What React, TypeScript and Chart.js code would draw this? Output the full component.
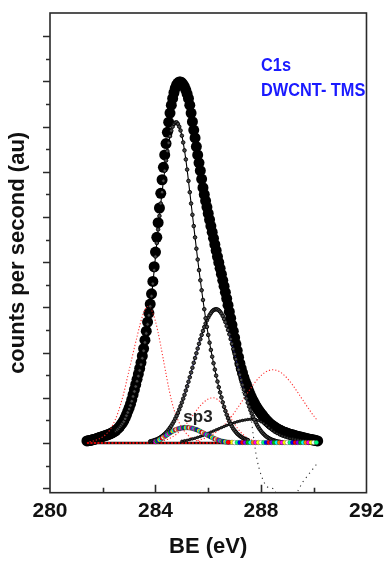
import React, { useEffect, useRef } from "react";
import { Chart, registerables } from "chart.js";
Chart.register(...registerables);
Chart.defaults.font.family = "'Liberation Sans', Arial, sans-serif";

// ---------- axis ----------
const X_MIN = 280;
const X_MAX = 292;
const X_TICKS = [280, 282, 284, 286, 288, 290, 292];
const X_LABELED = [280, 284, 288, 292];
const Y_TICKS = [0, 1, 2, 3, 4, 5, 6, 7, 8, 9, 10, 11, 12, 13, 14, 15, 16, 17, 18, 19, 20];

// ---------- data (BE in eV, counts in arbitrary units) ----------
// measured envelope (big dots), BE from 281.40 step 0.05
const ENV_START = 281.4;
const ENV_STEP = 0.05;
const ENVELOPE = [
  2.09, 2.10, 2.11, 2.12, 2.14, 2.15, 2.17, 2.19, 2.21, 2.23,
  2.25, 2.27, 2.29, 2.31, 2.33, 2.35, 2.37, 2.39, 2.42, 2.45,
  2.48, 2.52, 2.56, 2.61, 2.67, 2.74, 2.82, 2.90, 3.00, 3.12,
  3.26, 3.40, 3.55, 3.72, 3.92, 4.14, 4.36, 4.59, 4.82, 5.05,
  5.30, 5.56, 5.85, 6.18, 6.55, 6.95, 7.35, 7.75, 8.15, 8.60,
  9.15, 9.80, 10.45, 11.10, 11.75, 12.40, 13.05, 13.65, 14.20, 14.75,
  15.25, 15.75, 16.20, 16.60, 16.95, 17.25, 17.50, 17.70, 17.85, 17.93,
  17.98, 17.98, 17.94, 17.86, 17.76, 17.62, 17.45, 17.25, 16.95, 16.60,
  16.22, 15.85, 15.50, 15.12, 14.75, 14.40, 14.05, 13.68, 13.30, 13.00,
  12.72, 12.44, 12.16, 11.88, 11.60, 11.33, 11.06, 10.79, 10.52, 10.25,
  9.99, 9.73, 9.47, 9.20, 8.94, 8.67, 8.39, 8.10, 7.81, 7.52,
  7.23, 6.95, 6.66, 6.38, 6.09, 5.80, 5.52, 5.30, 5.10, 4.90,
  4.73, 4.58, 4.42, 4.26, 4.12, 3.99, 3.87, 3.76, 3.65, 3.56,
  3.47, 3.39, 3.31, 3.24, 3.16, 3.09, 3.02, 2.96, 2.90, 2.85,
  2.80, 2.76, 2.72, 2.68, 2.64, 2.61, 2.58, 2.55, 2.52, 2.49,
  2.47, 2.45, 2.43, 2.41, 2.39, 2.37, 2.36, 2.34, 2.32, 2.31,
  2.29, 2.28, 2.26, 2.25, 2.23, 2.22, 2.21, 2.19, 2.18, 2.17,
  2.15, 2.14, 2.13, 2.12, 2.10, 2.09,
];

// sp2 component, BE from 282.50 step 0.05
const SP2_START = 282.5;
const SP2_STEP = 0.05;
const SP2 = [
  2.53, 2.58, 2.64, 2.71, 2.78, 2.86, 2.95, 3.07, 3.21, 3.35,
  3.50, 3.66, 3.85, 4.06, 4.28, 4.50, 4.73, 4.96, 5.21, 5.47,
  5.75, 6.08, 6.45, 6.85, 7.25, 7.65, 8.05, 8.50, 9.05, 9.65,
  10.25, 10.85, 11.45, 12.05, 12.60, 13.10, 13.60, 14.05, 14.50, 14.92,
  15.28, 15.58, 15.82, 16.00, 16.12, 16.18, 16.19, 16.12, 16.00, 15.83,
  15.60, 15.30, 14.95, 14.55, 14.10, 13.60, 13.10, 12.60, 12.10, 11.60,
  11.10, 10.60, 10.12, 9.65, 9.20, 8.76, 8.33, 7.92, 7.52, 7.14,
  6.78, 6.44, 6.12, 5.82, 5.53, 5.25, 4.98, 4.72, 4.47, 4.24,
  4.02, 3.80, 3.60, 3.42, 3.25, 3.10, 2.96, 2.84, 2.73, 2.63,
  2.55, 2.48, 2.41, 2.36, 2.31, 2.27, 2.23, 2.20, 2.17, 2.15,
  2.13,
];

// second component (~286.3 eV), BE from 283.80 step 0.05
const C2_START = 283.8;
const C2_STEP = 0.05;
const C2 = [
  2.07, 2.08, 2.10, 2.12, 2.14, 2.16, 2.19, 2.22, 2.26, 2.30,
  2.35, 2.40, 2.46, 2.52, 2.60, 2.68, 2.76, 2.86, 2.96, 3.08,
  3.20, 3.33, 3.48, 3.63, 3.79, 3.96, 4.13, 4.32, 4.51, 4.71,
  4.91, 5.12, 5.33, 5.55, 5.76, 5.97, 6.18, 6.39, 6.59, 6.78,
  6.96, 7.13, 7.29, 7.43, 7.55, 7.66, 7.75, 7.83, 7.88, 7.91,
  7.92, 7.91, 7.87, 7.81, 7.73, 7.62, 7.49, 7.35, 7.18, 7.00,
  6.81, 6.60, 6.39, 6.16, 5.94, 5.71, 5.47, 5.24, 5.02, 4.79,
  4.57, 4.36, 4.16, 3.97, 3.78, 3.61, 3.45, 3.30, 3.16, 3.03,
  2.91, 2.80, 2.70, 2.61, 2.53, 2.46, 2.40, 2.34, 2.29, 2.25,
  2.21, 2.18, 2.15, 2.13, 2.11, 2.09, 2.07, 2.06, 2.05, 2.04,
  2.03,
];

// third component (~287.7 eV), BE from 285.0 step 0.1
const C3_START = 285.0;
const C3_STEP = 0.1;
const C3 = [
  2.08, 2.10, 2.12, 2.15, 2.18, 2.21, 2.25, 2.29, 2.33, 2.38,
  2.43, 2.48, 2.53, 2.58, 2.63, 2.68, 2.73, 2.78, 2.82, 2.86,
  2.90, 2.94, 2.97, 3.00, 3.02, 3.04, 3.05, 3.05, 3.04, 3.00,
  2.94, 2.87, 2.78, 2.68, 2.58, 2.49, 2.42, 2.36, 2.31, 2.27,
  2.23, 2.20, 2.18, 2.16, 2.14, 2.12, 2.11, 2.10, 2.09, 2.08,
  2.07, 2.06,
];

// sp3 component, BE from 284.00 step 0.05, then tail from 286.8 step 0.1
const SP3_START = 284.0;
const SP3_STEP = 0.05;
const SP3 = [
  2.06, 2.08, 2.11, 2.14, 2.17, 2.21, 2.25, 2.29, 2.33, 2.37,
  2.41, 2.45, 2.49, 2.52, 2.55, 2.58, 2.60, 2.62, 2.64, 2.65,
  2.66, 2.67, 2.68, 2.68, 2.68, 2.68, 2.67, 2.66, 2.65, 2.63,
  2.61, 2.59, 2.57, 2.54, 2.51, 2.48, 2.45, 2.42, 2.39, 2.36,
  2.33, 2.30, 2.27, 2.24, 2.21, 2.18, 2.16, 2.14, 2.12, 2.10,
  2.08, 2.07, 2.06, 2.05, 2.04, 2.03,
];
const SP3_TAIL_START = 286.8;
const SP3_TAIL_STEP = 0.1;
const SP3_TAIL = [
  2.03, 2.03, 2.02, 2.02, 2.02, 2.02, 2.02, 2.02, 2.02, 2.02,
  2.02, 2.02, 2.02, 2.02, 2.02, 2.02, 2.02, 2.02, 2.02, 2.02,
  2.02, 2.02, 2.02, 2.02, 2.02, 2.02, 2.02, 2.02, 2.02, 2.02,
  2.02, 2.02, 2.02, 2.02,
];

// red dotted curves, step 0.1
const R1_START = 281.5;
const R1 = [
  2.06, 2.08, 2.11, 2.15, 2.20, 2.27, 2.36, 2.48, 2.63, 2.84,
  3.10, 3.42, 3.80, 4.22, 4.72, 5.22, 5.72, 6.22, 6.70, 7.18,
  7.60, 7.90, 8.04, 7.98, 7.75, 7.38, 6.88, 6.30, 5.68, 5.05,
  4.45, 3.92, 3.48, 3.15, 2.90, 2.70, 2.52, 2.38, 2.27, 2.19,
  2.13, 2.09, 2.06,
];
const R2_START = 284.2;
const R2 = [
  2.07, 2.10, 2.14, 2.18, 2.24, 2.31, 2.40, 2.50, 2.62, 2.75,
  2.89, 3.04, 3.20, 3.35, 3.51, 3.65, 3.77, 3.87, 3.95, 3.99,
  4.00, 3.96, 3.88, 3.76, 3.59, 3.41, 3.21, 3.02, 2.84, 2.67,
  2.52, 2.40, 2.29, 2.21, 2.15, 2.10, 2.07, 2.05, 2.03,
];
const R3_START = 285.6;
const R3 = [
  2.11, 2.14, 2.18, 2.22, 2.27, 2.33, 2.40, 2.48, 2.57, 2.67,
  2.79, 2.91, 3.05, 3.20, 3.36, 3.53, 3.70, 3.88, 4.05, 4.23,
  4.40, 4.57, 4.72, 4.86, 4.98, 5.08, 5.16, 5.21, 5.24, 5.24,
  5.21, 5.16, 5.08, 4.98, 4.86, 4.72, 4.57, 4.40, 4.23, 4.05,
  3.88, 3.70, 3.53, 3.36, 3.20, 3.05,
];
const R_STEP = 0.1;

// black dotted residual
const RESID_X = [287.2, 287.3, 287.4, 287.5, 287.6, 287.7, 287.8, 287.9, 288.0, 288.1, 288.2, 288.3, 288.4, 288.5, 288.7, 288.9, 289.1, 289.3, 289.4, 289.5, 289.6, 289.7, 289.8, 289.9, 290.0, 290.1];
const RESID_Y = [4.7, 4.2, 3.9, 3.7, 3.3, 2.4, 1.6, 1.0, 0.6, 0.3, 0.1, 0.02, 0.0, -0.05, -0.6, -0.9, -0.7, -0.3, -0.12, 0.1, 0.3, 0.45, 0.6, 0.75, 0.9, 1.05];

// background line
const BASE_X = [281.4, 290.15];
const BASE_Y = [2.0, 2.0];

const RAINBOW = ["#ff00ff", "#00c000", "#0000ff", "#ffff00", "#00ffff", "#ff0000", "#ffffff", "#ff8000", "#8000ff", "#00ff80"];

const pts = (start: number, step: number, ys: number[]) =>
  ys.map((y, i) => ({ x: Math.round((start + i * step) * 1000) / 1000, y }));
const pairs = (xs: number[], ys: number[]) => xs.map((x, i) => ({ x, y: ys[i] }));

const framePlugin = {
  id: "frame",
  afterDraw(chart: any) {
    const { ctx, chartArea: a, scales } = chart;
    const x = scales.x;
    const y = scales.y;
    ctx.save();
    ctx.strokeStyle = "#2a2a2a";
    ctx.lineWidth = 1.6;
    ctx.strokeRect(a.left, a.top, a.right - a.left, a.bottom - a.top);
    ctx.beginPath();
    Y_TICKS.forEach((v) => {
      const py = Math.round(y.getPixelForValue(v)) + 0.5;
      const len = v % 2 === 0 ? 7 : 4;
      ctx.moveTo(a.left - len, py);
      ctx.lineTo(a.left, py);
    });
    X_TICKS.forEach((v) => {
      if (v === X_MIN || v === X_MAX) return;
      const px = Math.round(x.getPixelForValue(v)) + 0.5;
      const len = X_LABELED.includes(v) ? 8 : 5;
      ctx.moveTo(px, a.bottom);
      ctx.lineTo(px, a.bottom - len);
    });
    ctx.stroke();

    // annotations
    ctx.textAlign = "left";
    ctx.textBaseline = "alphabetic";
    ctx.fillStyle = "#1a1aff";
    ctx.font = "bold 19px 'Liberation Sans', Arial, sans-serif";
    const drawSq = (t: string, bx: number, by: number) => {
      ctx.save();
      ctx.translate(x.getPixelForValue(bx), y.getPixelForValue(by));
      ctx.scale(0.86, 1);
      ctx.fillText(t, 0, 0);
      ctx.restore();
    };
    drawSq("C1s", 288.0, 18.48);
    drawSq("DWCNT- TMS", 288.0, 17.37);
    ctx.fillStyle = "#222";
    ctx.font = "bold 17px 'Liberation Sans', Arial, sans-serif";
    ctx.textAlign = "center";
    ctx.fillText("sp3", x.getPixelForValue(285.61), y.getPixelForValue(2.95));
    ctx.restore();
  },
};

export default function App() {
  const ref = useRef<HTMLCanvasElement>(null);
  useEffect(() => {
    const redDot = {
      showLine: true,
      borderColor: "rgba(255,30,30,0.9)",
      borderWidth: 1.1,
      borderDash: [1.2, 2],
      pointRadius: 0,
      tension: 0.3,
    };
    const chart = new Chart(ref.current as HTMLCanvasElement, {
      type: "scatter",
      data: {
        datasets: [
          {
            label: "sp3",
            data: pts(SP3_START, SP3_STEP, SP3),
            showLine: false,
            pointRadius: 2.3,
            pointBorderWidth: 0.5,
            pointBorderColor: "rgba(0,0,0,0.5)",
            pointBackgroundColor: (c: any) => RAINBOW[c.dataIndex % RAINBOW.length],
          },
          {
            label: "sp3 tail",
            data: pts(SP3_TAIL_START, SP3_TAIL_STEP, SP3_TAIL),
            showLine: false,
            pointRadius: 2.3,
            pointBorderWidth: 0.5,
            pointBorderColor: "rgba(0,0,0,0.5)",
            pointBackgroundColor: (c: any) => RAINBOW[(c.dataIndex * 3) % RAINBOW.length],
          },
          {
            label: "sp2",
            data: pts(SP2_START, SP2_STEP, SP2),
            showLine: true,
            borderColor: "#000",
            borderWidth: 1.1,
            pointRadius: 1.8,
            pointBackgroundColor: "#4a4a4a",
            pointBorderColor: "#000",
            pointBorderWidth: 0.9,
          },
          {
            label: "C2",
            data: pts(C2_START, C2_STEP, C2),
            showLine: true,
            borderColor: "#1c1c8c",
            borderWidth: 1.1,
            pointRadius: 1.8,
            pointBackgroundColor: "#4a4a4a",
            pointBorderColor: "#000",
            pointBorderWidth: 0.9,
          },
          {
            label: "C3",
            data: pts(C3_START, C3_STEP, C3),
            showLine: true,
            borderColor: "#000",
            borderWidth: 2,
            pointRadius: 1.3,
            pointBackgroundColor: "#333",
            pointBorderColor: "#000",
            pointBorderWidth: 0.6,
          },
          { label: "R1", data: pts(R1_START, R_STEP, R1), ...redDot },
          { label: "R2", data: pts(R2_START, R_STEP, R2), ...redDot },
          { label: "R3", data: pts(R3_START, R_STEP, R3), ...redDot },
          {
            label: "resid",
            data: pairs(RESID_X, RESID_Y),
            showLine: true,
            borderColor: "#333",
            borderWidth: 1.1,
            borderDash: [1.2, 4],
            pointRadius: 0,
            tension: 0.3,
          },
          {
            label: "base red",
            data: pairs(BASE_X, BASE_Y),
            showLine: true,
            borderColor: "rgba(230,0,0,0.95)",
            borderWidth: 2,
            borderDash: [2, 1.5],
            pointRadius: 0,
          },
          {
            label: "base",
            data: pairs(BASE_X, BASE_Y),
            showLine: true,
            borderColor: "#111",
            borderWidth: 2.5,
            pointRadius: 0,
          },
          {
            label: "envelope",
            data: pts(ENV_START, ENV_STEP, ENVELOPE),
            showLine: false,
            pointRadius: 5.5,
            pointBackgroundColor: "#000",
            pointBorderWidth: 0,
          },
        ] as any,
      },
      options: {
        animation: false,
        responsive: true,
        maintainAspectRatio: false,
        layout: { padding: { left: 0, right: 23, top: 13, bottom: 0 } },
        plugins: { legend: { display: false }, tooltip: { enabled: false } },
        scales: {
          x: {
            type: "linear",
            min: X_MIN,
            max: X_MAX,
            afterFit: (s: any) => {
              s.height = 72.3;
            },
            afterBuildTicks: (s: any) => {
              s.ticks = X_TICKS.map((v) => ({ value: v }));
            },
            grid: { display: false, drawTicks: false },
            border: { display: false },
            ticks: {
              autoSkip: false,
              maxRotation: 0,
              padding: 6,
              color: "#111",
              font: { size: 21, weight: "bold" },
              callback: (v: any) => (X_LABELED.includes(Number(v)) ? String(v) : ""),
            },
            title: {
              display: true,
              text: "BE (eV)",
              color: "#111",
              font: { size: 22, weight: "bold" },
              padding: { top: 0, bottom: 5 },
            },
          },
          y: {
            type: "linear",
            min: -0.2,
            max: 21.03,
            afterFit: (s: any) => {
              s.width = 50;
            },
            afterBuildTicks: (s: any) => {
              s.ticks = Y_TICKS.map((v) => ({ value: v }));
            },
            grid: { display: false, drawTicks: false },
            border: { display: false },
            ticks: { display: false },
            title: {
              display: true,
              text: "counts per second (au)",
              color: "#111",
              font: { size: 22, weight: "bold" },
              padding: { top: 5, bottom: 0 },
            },
          },
        },
      } as any,
      plugins: [framePlugin],
    });
    return () => chart.destroy();
  }, []);
  return (
    <div style={{ position: "fixed", left: 0, top: 0, width: 390, height: 565, background: "#fff" }}>
      <canvas ref={ref} />
    </div>
  );
}
